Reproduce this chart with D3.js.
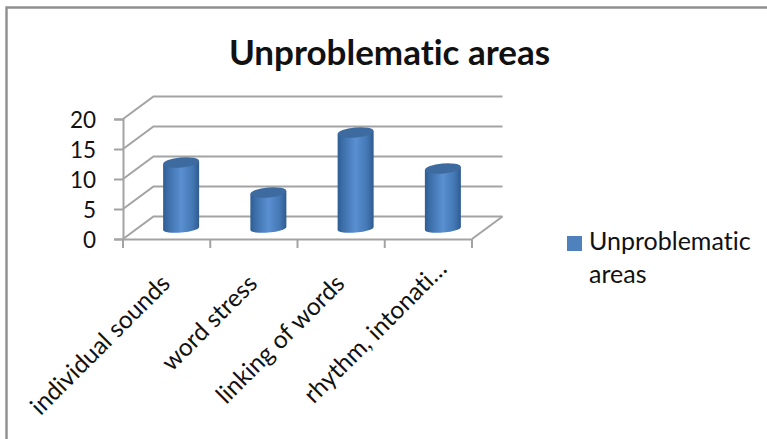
<!DOCTYPE html>
<html>
<head>
<meta charset="utf-8">
<script src="https://cdn.jsdelivr.net/npm/d3@7/dist/d3.min.js"></script>
<style>
  html, body { margin: 0; padding: 0; background: #fff; }
  svg { display: block; }
  text { font-family: Lato, "Open Sans", sans-serif; fill: #111; font-variant-ligatures: none; }
</style>
</head>
<body>
<svg id="chart" width="767" height="439"></svg>
<script>
// Chart content
const chartTitle = "Unproblematic areas";
const categories = ["individual sounds", "word stress", "linking of words", "rhythm, intonati\u2026"];
const seriesValues = [11, 6, 16, 10];
const yTicks = [0, 5, 10, 15, 20];
const legendLines = ["Unproblematic", "areas"];

// Plot geometry
const W = 767, H = 439;
const front = { left: 123, right: 472, bottom: 239, top: 119 };
const depth = { dx: 30.5, dy: -22.5 };
const axisGrey = "#a3a3a3";
const barRx = 18, barRy = 5, barBaseRy = 4, barTilt = -5, barShift = 14.5, barLift = 10.5;
// A truncated label overruns its slot, so it is pushed further along its own baseline
const truncatedShift = 21;

const svg = d3.select("#chart");

const x = d3.scaleBand().domain(categories).range([front.left, front.right]);
const y = d3.scaleLinear().domain([0, 20]).range([front.bottom, front.top]);

// Cylinder shading runs across the width of the body
const defs = svg.append("defs");
const grad = defs.append("linearGradient").attr("id", "cyl").attr("x1", 0).attr("x2", 1).attr("y1", 0).attr("y2", 0);
[[0, "#2f5d93"], [0.14, "#3c6ea8"], [0.5, "#5a90d2"], [0.82, "#4377b4"], [1, "#2f5b90"]]
  .forEach(([o, c]) => grad.append("stop").attr("offset", o).attr("stop-color", c));

// Outer frame: only the top and left edges are visible
svg.append("path")
  .attr("d", `M${W},7.5H6.5V${H}`)
  .attr("fill", "none").attr("stroke", "#8f8f8f").attr("stroke-width", 2.4);

// Back wall gridlines and the side wall rising from each value tick
const grid = svg.append("g").attr("fill", "none").attr("stroke", axisGrey).attr("stroke-width", 2);
grid.selectAll("path.wall").data(yTicks).join("path")
  .attr("class", "wall")
  .attr("d", d => `M${front.left},${y(d)}l${depth.dx},${depth.dy}H${front.right + depth.dx}`);
// Right edge of the floor
grid.append("path")
  .attr("d", `M${front.right},${y(0)}l${depth.dx},${depth.dy}`);

// Axes
const yAxis = svg.append("g").attr("transform", `translate(${front.left},0)`)
  .call(d3.axisLeft(y).tickValues(yTicks).tickSize(9).tickPadding(18).tickFormat(d3.format("d")));
const xAxis = svg.append("g").attr("transform", `translate(0,${front.bottom})`)
  .call(d3.axisBottom(x).tickSize(0).tickFormat(""));
// Category separators sit on the band edges rather than the band centres
const edges = categories.map(c => x(c)).concat(front.right);
xAxis.selectAll("line.edge").data(edges).join("line")
  .attr("class", "edge")
  .attr("x1", d => d).attr("x2", d => d).attr("y1", 0).attr("y2", 9);
[yAxis, xAxis].forEach(a => {
  a.selectAll("path.domain").attr("stroke", axisGrey).attr("stroke-width", 2);
  a.selectAll("line").attr("stroke", axisGrey).attr("stroke-width", 2);
});
yAxis.selectAll("text")
  .attr("font-size", 22.5).attr("fill", "#111").attr("dy", "0.36em")
  .style("font-family", "Lato, 'Open Sans', sans-serif");

// Cylinders
const bars = svg.append("g");
const cx = c => x(c) + x.bandwidth() / 2 + barShift;
const baseY = () => y(0) - barLift;
const topY = v => y(v) - barLift;
const tiltDy = barRx * Math.sin(barTilt * Math.PI / 180);

seriesValues.forEach((v, i) => {
  const c = categories[i];
  const l = cx(c) - barRx, r = cx(c) + barRx;
  bars.append("path")
    .attr("d", `M${l},${topY(v) - tiltDy}L${l},${baseY() - tiltDy}` +
      `A${barRx},${barBaseRy} ${barTilt} 0 0 ${r},${baseY() + tiltDy}` +
      `L${r},${topY(v) + tiltDy}Z`)
    .attr("fill", "url(#cyl)");
  bars.append("ellipse")
    .attr("cx", cx(c)).attr("cy", topY(v))
    .attr("rx", barRx).attr("ry", barRy)
    .attr("transform", `rotate(${barTilt} ${cx(c)} ${topY(v)})`)
    .attr("fill", "#3d6a9f");
});

// Category labels, rotated and ending under each band
svg.append("g").selectAll("text").data(categories).join("text")
  .attr("text-anchor", "end")
  .attr("font-size", 24.5)
  .attr("transform", c => `translate(${x(c) + x.bandwidth() / 2 + 5},285) rotate(-45)`)
  .attr("dx", c => c.endsWith("\u2026") ? truncatedShift : 0)
  .text(c => c);

// Title
svg.append("text")
  .attr("x", 389.5).attr("y", 65)
  .attr("text-anchor", "middle")
  .attr("font-size", 35).attr("font-weight", 700)
  .text(chartTitle);

// Legend
svg.append("rect")
  .attr("x", 567).attr("y", 236).attr("width", 15).attr("height", 15)
  .attr("fill", "#4f81bd");
svg.append("g").selectAll("text").data(legendLines).join("text")
  .attr("x", 589)
  .attr("y", (d, i) => 250 + i * 33)
  .attr("font-size", 25)
  .text(d => d);
</script>
</body>
</html>
